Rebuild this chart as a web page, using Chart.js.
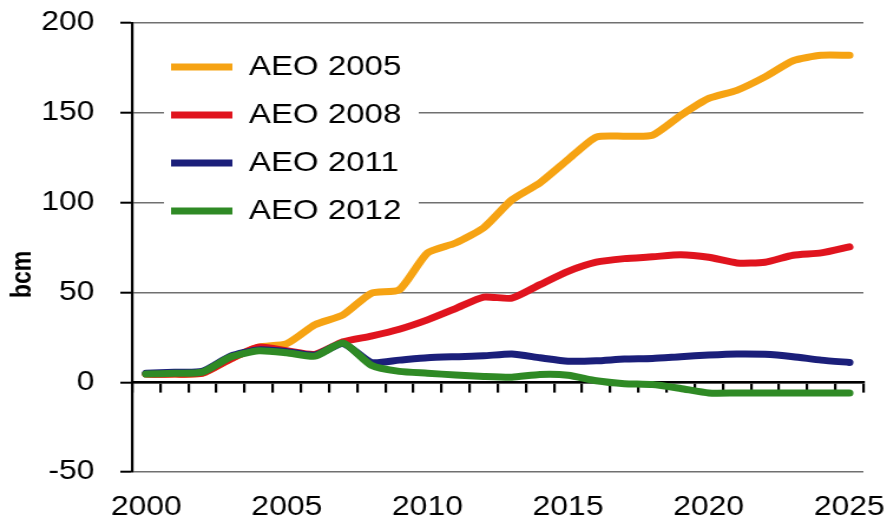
<!DOCTYPE html>
<html><head><meta charset="utf-8">
<script src="https://cdn.jsdelivr.net/npm/chart.js@4.4.1/dist/chart.umd.min.js"></script>
<style>html,body{margin:0;padding:0;background:#fff;}canvas{display:block;}</style>
</head><body>
<canvas id="c" width="752" height="520" style="width:887px;height:520px"></canvas>
<script>
const years = ['2000','2001','2002','2003','2004','2005','2006','2007','2008','2009','2010','2011','2012','2013','2014','2015','2016','2017','2018','2019','2020','2021','2022','2023','2024','2025'];
const xTickLabels = ['2000','2005','2010','2015','2020','2025'];
const yTickStep = 50;
const yMin = -50;
const yMax = 200;
const seriesNames = ['AEO 2005','AEO 2008','AEO 2011','AEO 2012'];
const yTitle = 'bcm';
const aeo2005 = [4.5, 4.5, 5, 13, 19.5, 21.5, 32, 37.5, 49.5, 51.5, 72, 77.5, 86, 101.5, 111, 124, 136.5, 137, 137.5, 148.5, 158, 162.5, 170, 179, 182, 182];
const aeo2008 = [4.5, 4.5, 5, 13, 19.5, 17.5, 15.5, 22.5, 25.7, 29.5, 34.7, 41, 47.4, 46.8, 54.3, 61.7, 66.8, 68.8, 69.8, 71, 69.6, 66.4, 66.8, 70.7, 72, 75.4];
const aeo2011 = [5, 5.5, 6, 14.5, 18, 17, 15, 21.5, 11, 12.3, 13.6, 14.2, 14.7, 15.7, 13.6, 11.7, 11.9, 12.9, 13.2, 14.2, 15.1, 15.7, 15.5, 14.2, 12.3, 11];
const aeo2012 = [4.5, 5, 5.6, 14, 17.5, 16.4, 14.5, 21.8, 9.5, 6, 5, 4, 3.2, 2.8, 4.3, 3.9, 0.8, -0.8, -1.3, -3.5, -6, -6, -6, -6, -6, -6];
const colors = ['#F6A313', '#E0141E', '#1B1F7A', '#2F8A25'];

const FONT = '"Liberation Sans", Arial, sans-serif';

function ds(label, data, color, order) {
  return {label, data, borderColor: color, backgroundColor: color, borderWidth: 7,
    pointRadius: 0, tension: 0.2, borderCapStyle: 'round', borderJoinStyle: 'round', order, fill: false};
}

const yTitlePlugin = {
  id: 'yTitlePlugin',
  afterDraw(chart) {
    const {ctx, chartArea} = chart;
    ctx.save();
    ctx.font = 'bold 23px ' + FONT;
    ctx.fillStyle = '#000';
    ctx.textAlign = 'center';
    ctx.textBaseline = 'middle';
    ctx.translate(20, chartArea.top + (chartArea.bottom - chartArea.top) * 0.56);
    ctx.rotate(-Math.PI / 2);
    ctx.fillText(yTitle, 0, 0);
    ctx.restore();
  }
};

const legendPlugin = {
  id: 'legendPlugin',
  afterLayout(chart) {
    chart.legend.left += 13;
    chart.legend.top += 33;
  },
  beforeDatasetsDraw(chart) {
    const {ctx, chartArea} = chart;
    ctx.save();
    ctx.fillStyle = '#fff';
    ctx.fillRect(chartArea.left + 27, chartArea.top + 15, 216, 190);
    ctx.restore();
    chart.legend.draw();
  }
};

new Chart(document.getElementById('c'), {
  type: 'line',
  data: {
    labels: years,
    datasets: [
      ds(seriesNames[0], aeo2005, colors[0], 4),
      ds(seriesNames[1], aeo2008, colors[1], 3),
      ds(seriesNames[2], aeo2011, colors[2], 2),
      ds(seriesNames[3], aeo2012, colors[3], 1)
    ]
  },
  options: {
    responsive: false,
    devicePixelRatio: 1,
    animation: false,
    layout: {padding: {top: 23, right: 20, bottom: 0, left: 0}},
    plugins: {
      tooltip: {enabled: false},
      legend: {
        position: 'chartArea',
        align: 'start',
        labels: {
          usePointStyle: true,
          pointStyle: 'line',
          pointStyleWidth: 52,
          padding: 20,
          color: '#000',
          font: {family: FONT, size: 28},
          sort: (a, b) => a.datasetIndex - b.datasetIndex
        }
      }
    },
    scales: {
      x: {
        type: 'category',
        offset: true,
        grid: {display: false, drawTicks: false},
        border: {display: false},
        ticks: {
          autoSkip: false, maxRotation: 0, padding: 19, color: '#000',
          font: {family: FONT, size: 27},
          callback: function(v) { const l = this.getLabelForValue(v); return xTickLabels.includes(l) ? l : ''; }
        },
        afterFit: (s) => { s.height = 48; s.paddingLeft = 0; s.paddingRight = 0; }
      },
      x2: {
        type: 'category',
        axis: 'x',
        position: {y: 0},
        offset: true,
        grid: {display: true, offset: true, drawOnChartArea: false, drawTicks: true, tickLength: 9, color: '#000', lineWidth: 2.2},
        border: {display: true, color: '#000', width: 2.6},
        ticks: {display: false},
        afterFit: (s) => { s.height = 0; s.paddingLeft = 0; s.paddingRight = 0; }
      },
      y: {
        type: 'linear',
        min: yMin, max: yMax,
        ticks: {stepSize: yTickStep, padding: 22, color: '#000', font: {family: FONT, size: 27}},
        grid: {color: '#707070', lineWidth: 1.4, tickLength: 10, tickColor: '#000', tickWidth: 2},
        border: {display: true, color: '#000', width: 2.2},
        afterFit: (s) => { s.width = 112; s.paddingTop = 0; s.paddingBottom = 0; }
      }
    }
  },
  plugins: [yTitlePlugin, legendPlugin]
});
</script>
</body></html>
